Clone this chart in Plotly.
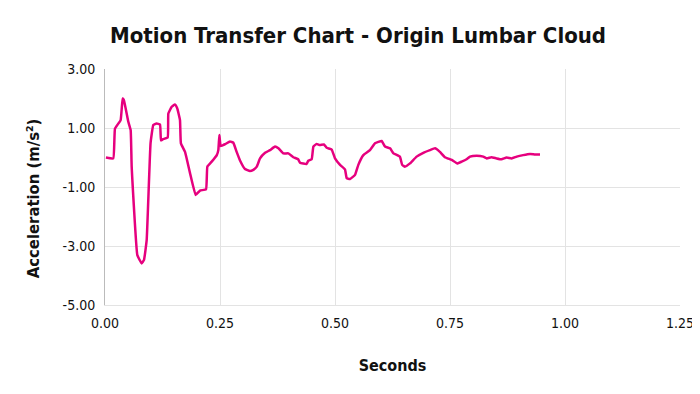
import plotly.graph_objects as go

seconds = [0.002, 0.018, 0.0217, 0.034, 0.0384, 0.041, 0.0507, 0.0558, 0.058, 0.0703, 0.0797,
           0.0848, 0.0906, 0.099, 0.105, 0.112, 0.1196, 0.1217, 0.126, 0.1363, 0.1377, 0.145,
           0.152, 0.157, 0.163, 0.165, 0.174, 0.185, 0.197, 0.2065, 0.2196, 0.2225, 0.232,
           0.243, 0.2464, 0.2486, 0.2515, 0.261, 0.2717, 0.279, 0.2862, 0.2935, 0.3043,
           0.315, 0.3225, 0.33, 0.337, 0.348, 0.3587, 0.3696, 0.377, 0.3877, 0.3986, 0.4094,
           0.42, 0.424, 0.438, 0.442, 0.4493, 0.453, 0.46, 0.467, 0.476, 0.482, 0.4928, 0.5,
           0.511, 0.5217, 0.5254, 0.5326, 0.5435, 0.5507, 0.5616, 0.576, 0.587, 0.6014,
           0.6087, 0.6196, 0.627, 0.641, 0.646, 0.652, 0.663, 0.6775, 0.692, 0.7065, 0.7174,
           0.728, 0.739, 0.7536, 0.7659, 0.7754, 0.786, 0.7935, 0.808, 0.8225, 0.83, 0.84,
           0.851, 0.862, 0.873, 0.884, 0.895, 0.909, 0.924, 0.935, 0.9457]
acceleration = [0.0, -0.03, 0.98, 1.27, 2.0, 1.95, 1.21, 0.93, -0.31, -3.31, -3.59,
                -3.47, -2.80, 0.48, 1.10, 1.15, 1.12, 0.58, 0.62, 0.68, 1.49, 1.72,
                1.80, 1.67, 1.27, 0.48, 0.19, -0.54, -1.27, -1.12, -1.08, -0.31, -0.14,
                0.08, 0.25, 0.76, 0.39, 0.45, 0.54, 0.50, 0.19, -0.10, -0.39,
                -0.46, -0.42, -0.31, -0.03, 0.16, 0.25, 0.37, 0.31, 0.14, 0.14, 0.01,
                -0.06, -0.18, -0.22, -0.11, -0.06, 0.37, 0.46, 0.42, 0.44, 0.33, 0.27, -0.03,
                -0.25, -0.40, -0.70, -0.73, -0.59, -0.25, 0.08, 0.25, 0.48, 0.56,
                0.37, 0.31, 0.14, 0.03, -0.25, -0.31, -0.20, 0.03, 0.16, 0.25, 0.31,
                0.19, 0.01, -0.08, -0.20, -0.14, -0.06, 0.03, 0.06, 0.03, -0.03, 0.01,
                -0.03, -0.06, 0.0, -0.03, 0.03, 0.08, 0.12, 0.10, 0.10]

x_ticks = [0, 0.25, 0.5, 0.75, 1.0, 1.25]
x_tick_labels = ["0.00", "0.25", "0.50", "0.75", "1.00", "1.25"]
y_ticks = [-5, -3, -1, 1, 3]
y_tick_labels = ["-5.00", "-3.00", "-1.00", "1.00", "3.00"]

FONT = "DejaVu Sans Condensed, DejaVu Sans, sans-serif"

fig = go.Figure()
fig.add_trace(go.Scatter(x=seconds, y=acceleration, mode="lines",
                         line=dict(color="#E6007E", width=2.5, shape="spline", smoothing=0.3),
                         showlegend=False))

fig.update_layout(
    width=700, height=394,
    margin=dict(l=97, r=28, t=61, b=97, autoexpand=False),
    paper_bgcolor="white", plot_bgcolor="white",
    font=dict(family=FONT, color="#111111", size=13),
    title=dict(text="<b>Motion Transfer Chart - Origin Lumbar Cloud</b>",
               x=0.5, xanchor="center", y=0.931, yanchor="middle",
               font=dict(family=FONT, size=22, color="#111111")),
    xaxis=dict(range=[0, 1.25], tickvals=x_ticks, ticktext=x_tick_labels,
               showgrid=True, gridcolor="#E3E3E3", gridwidth=1,
               zeroline=False, showline=True, linecolor="#E3E3E3",
               ticks="", tickfont=dict(size=14), automargin=False,
               ticklabelstandoff=5,
               title=dict(text="<b>Seconds</b>", font=dict(size=16), standoff=30)),
    yaxis=dict(range=[-5, 3], tickvals=y_ticks, ticktext=y_tick_labels,
               showgrid=True, gridcolor="#E3E3E3", gridwidth=1,
               zeroline=False, showline=True, linecolor="#BBBBBB",
               ticks="", tickfont=dict(size=14), automargin=False,
               ticklabelstandoff=6),
    annotations=[dict(text="<b>Acceleration (m/s²)</b>", textangle=-90,
                      xref="paper", yref="paper", x=-0.125, y=0.453,
                      xanchor="center", yanchor="middle", showarrow=False,
                      font=dict(family=FONT, size=16.5, color="#111111"))],
)

fig.write_html("out.html")
